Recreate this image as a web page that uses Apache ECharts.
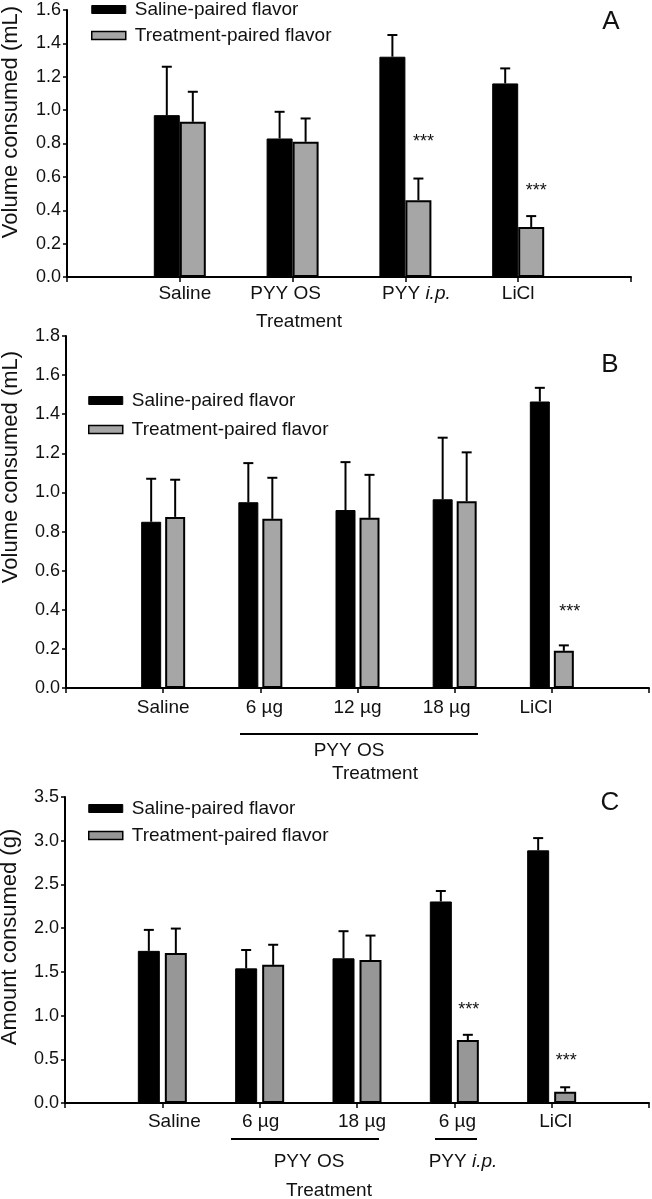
<!DOCTYPE html>
<html><head><meta charset="utf-8">
<script src="https://cdn.jsdelivr.net/npm/echarts@6/dist/echarts.min.js"></script>
<style>html,body{margin:0;padding:0;background:#fff}#c{width:652px;height:1199px}</style>
</head><body><div id="c"></div>
<script>
// ---------- Panel A ----------
const catsA = ['', 'Saline', 'PYY OS', 'PYY i.p.', 'LiCl', ''];
const salineA = [null, 0.97, 0.83, 1.32, 1.16, null];
const salineErrA = [null, 0.29, 0.16, 0.13, 0.09, null];
const treatA = [null, 0.93, 0.81, 0.46, 0.30, null];
const treatErrA = [null, 0.18, 0.14, 0.13, 0.065, null];
const starsA = [null, null, null, 0.83, 0.54, null];
const ticksA = [0, 1.6, 0.2];
// ---------- Panel B ----------
const catsB = ['', 'Saline', '6 µg', '12 µg', '18 µg', 'LiCl', ''];
const salineB = [null, 0.85, 0.95, 0.91, 0.965, 1.465, null];
const salineErrB = [null, 0.22, 0.20, 0.245, 0.315, 0.07, null];
const treatB = [null, 0.875, 0.865, 0.87, 0.955, 0.19, null];
const treatErrB = [null, 0.19, 0.21, 0.22, 0.25, 0.028, null];
const starsB = [null, null, null, null, null, 0.41, null];
const ticksB = [0, 1.8, 0.2];
// ---------- Panel C ----------
const catsC = ['', 'Saline', '6 µg', '18 µg', '6 µg', 'LiCl', ''];
const salineC = [null, 1.74, 1.54, 1.655, 2.305, 2.89, null];
const salineErrC = [null, 0.24, 0.21, 0.31, 0.12, 0.14, null];
const treatC = [null, 1.715, 1.58, 1.635, 0.72, 0.13, null];
const treatErrC = [null, 0.28, 0.23, 0.28, 0.06, 0.05, null];
const starsC = [null, null, null, null, 1.11, 0.525, null];
const ticksC = [0, 3.5, 0.5];

const S1 = 'Saline-paired flavor', S2 = 'Treatment-paired flavor';
const FF = '"Liberation Sans", Arial, Helvetica, sans-serif';
const TXT = '#111';

// horizontal nudges (px) of individual category labels, as in the reference
const labShiftA = [0, 5, -7, 11, 0, 0];
const labShiftB = [0, 0, 4, 0, -8, -16, 0];
const labShiftC = [0, 12, 1, 5, 3, 4, 0];

const panels = [
  {cats: catsA, shift: labShiftA, s: salineA, se: salineErrA, t: treatA, te: treatErrA, stars: starsA, ticks: ticksA,
   grid: {left: 67, top: 10, width: 564, height: 267}, bw: 26, gapPx: 0, gray: '#a6a6a6', labMargin: 7,
   legend: {left: 91, top: 0, itemGap: 7}, starDx: 5},
  {cats: catsB, shift: labShiftB, s: salineB, se: salineErrB, t: treatB, te: treatErrB, stars: starsB, ticks: ticksB,
   grid: {left: 66, top: 336, width: 585, height: 352}, bw: 20, gapPx: 4, gray: '#a6a6a6', labMargin: 10,
   legend: {left: 88, top: 391, itemGap: 10}, starDx: 6},
  {cats: catsC, shift: labShiftC, s: salineC, se: salineErrC, t: treatC, te: treatErrC, stars: starsC, ticks: ticksC,
   grid: {left: 65, top: 797, width: 587, height: 306}, bw: 22, gapPx: 5, gray: '#979797', labMargin: 9,
   legend: {left: 88, top: 799, itemGap: 8}, starDx: 1}
];

const grids = [], xAxes = [], yAxes = [], series = [], legends = [];
panels.forEach((p, k) => {
  grids.push(Object.assign({containLabel: false}, p.grid));
  xAxes.push({
    type: 'category', gridIndex: k, boundaryGap: false,
    data: p.cats.map((c, i) => {
      const sh = p.shift[i];
      return sh ? {value: c, textStyle: {padding: sh > 0 ? [0, 0, 0, 2 * sh] : [0, -2 * sh, 0, 0]}} : c;
    }),
    axisLine: {lineStyle: {color: '#000', width: 2}},
    axisTick: {length: 5, lineStyle: {color: '#000', width: 1.5}},
    axisLabel: {
      interval: 0, margin: p.labMargin, fontSize: 19, fontFamily: FF, color: TXT,
      formatter: v => v === 'PYY i.p.' ? 'PYY {it|i.p.}' : v,
      rich: {it: {fontStyle: 'italic', fontSize: 19, fontFamily: FF, color: TXT}}
    },
    splitLine: {show: false}
  });
  yAxes.push({
    type: 'value', gridIndex: k, min: p.ticks[0], max: p.ticks[1], interval: p.ticks[2],
    axisLine: {show: true, lineStyle: {color: '#000', width: 2}},
    axisTick: {show: true, length: 4, lineStyle: {color: '#000', width: 1.5}},
    axisLabel: {margin: 6, fontSize: 18, fontFamily: FF, color: TXT, formatter: v => v.toFixed(1)},
    splitLine: {show: false}
  });
  const gap = (p.bw + p.gapPx) / 2;
  series.push({
    type: 'bar', name: S1, xAxisIndex: k, yAxisIndex: k, data: p.s, barWidth: p.bw,
    barGap: (p.gapPx / p.bw * 100) + '%',
    itemStyle: {color: '#000', borderColor: '#000', borderWidth: 1}, z: 2
  });
  series.push({
    type: 'bar', name: S2, xAxisIndex: k, yAxisIndex: k, data: p.t, barWidth: p.bw,
    barGap: (p.gapPx / p.bw * 100) + '%',
    itemStyle: {color: p.gray, borderColor: '#000', borderWidth: 2}, z: 2
  });
  [[p.s, p.se, -gap], [p.t, p.te, gap]].forEach(([vals, errs, off]) => {
    series.push({
      type: 'custom', xAxisIndex: k, yAxisIndex: k, z: 3, silent: true,
      data: vals.map((v, i) => v == null ? null : [i, v, v + errs[i]]).filter(d => d),
      renderItem: (params, api) => {
        const b = api.coord([api.value(0), api.value(1)]);
        const t = api.coord([api.value(0), api.value(2)]);
        const cx = b[0] + off;
        return {type: 'group', children: [
          {type: 'line', shape: {x1: cx, y1: b[1], x2: cx, y2: t[1]}, style: {stroke: '#000', lineWidth: 2}},
          {type: 'line', shape: {x1: cx - 5, y1: t[1], x2: cx + 5, y2: t[1]}, style: {stroke: '#000', lineWidth: 2}}
        ]};
      }
    });
  });
  series.push({
    type: 'custom', xAxisIndex: k, yAxisIndex: k, z: 4, silent: true,
    data: p.stars.map((v, i) => v == null ? null : [i, v]).filter(d => d),
    renderItem: (params, api) => {
      const c = api.coord([api.value(0), api.value(1)]);
      return {type: 'text', x: c[0] + gap + p.starDx, y: c[1] + 4,
        style: {text: '***', fontSize: 18, fontFamily: FF, fill: TXT, align: 'center', verticalAlign: 'middle'}};
    }
  });
  legends.push({
    orient: 'vertical', left: p.legend.left, top: p.legend.top, itemGap: p.legend.itemGap, padding: 0,
    itemWidth: 34, itemHeight: 8, icon: 'rect', selectedMode: false,
    textStyle: {fontSize: 19, fontFamily: FF, color: TXT, padding: [0, 0, 0, 4]},
    data: [
      {name: S1, itemStyle: {color: '#000', borderColor: '#000', borderWidth: 1}},
      {name: S2, itemStyle: {color: p.gray, borderColor: '#000', borderWidth: 1.5}}
    ]
  });
});

const txt = (text, x, y, size, rot) => ({
  type: 'text', x: x, y: y, rotation: rot || 0, silent: true,
  style: {text: text, fontSize: size, fontFamily: FF, fill: TXT, align: 'center', verticalAlign: 'middle'}
});
const hline = (x1, x2, y) => ({type: 'line', silent: true, shape: {x1: x1, y1: y, x2: x2, y2: y}, style: {stroke: '#000', lineWidth: 2}});

const graphics = [
  txt('A', 611, 22, 26), txt('B', 610, 365, 26), txt('C', 610, 803, 26),
  txt('Volume consumed (mL)', 11, 122, 22, Math.PI / 2),
  txt('Volume consumed (mL)', 11, 467, 22, Math.PI / 2),
  txt('Amount consumed (g)', 10, 937, 22, Math.PI / 2),
  txt('Treatment', 299, 322, 19),
  hline(240, 478, 734), txt('PYY OS', 349, 751, 19), txt('Treatment', 375, 774, 19),
  hline(231, 379, 1139), hline(435, 477, 1139),
  txt('PYY OS', 309, 1162, 19),
  {type: 'text', x: 463, y: 1162, silent: true, style: {text: 'PYY {it|i.p.}', fontSize: 19, fontFamily: FF, fill: TXT, align: 'center', verticalAlign: 'middle',
    rich: {it: {fontStyle: 'italic', fontSize: 19, fontFamily: FF, fill: TXT}}}},
  txt('Treatment', 329, 1191, 19)
];

const chart = echarts.init(document.getElementById('c'), null, {renderer: 'canvas'});
chart.setOption({
  animation: false, backgroundColor: '#fff',
  grid: grids, xAxis: xAxes, yAxis: yAxes, series: series, legend: legends, graphic: graphics
});
</script></body></html>
